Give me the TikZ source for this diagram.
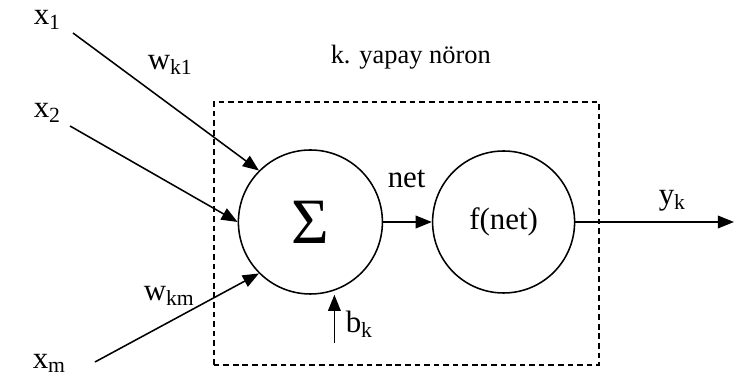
\documentclass[tikz,border=0pt]{standalone}
\usepackage{fontspec}
\setmainfont{Liberation Serif}
\usetikzlibrary{arrows.meta}
\tikzset{every path/.style={line width=1.1pt},
  neuron/.style={draw,circle,minimum size=3.6cm,inner sep=0pt},
  lbl/.style={anchor=base west,inner sep=0pt,font=\fontsize{22}{24}\selectfont},
  arr/.style={-{Triangle[length=11.5pt,width=9pt]}}}

\begin{document}
\begin{tikzpicture}
    \useasboundingbox (0,0) rectangle (18.375,9.475);

    \node[neuron,font=\fontsize{46}{48}\selectfont] (sum) at (7.76,3.925) {Σ};
    \node[neuron,minimum size=3.55cm] (act) at (12.59,3.925) {};
    \node[lbl,anchor=center] at (act) {f(net)};

    \draw[line width=0.9pt,dash pattern=on 4pt off 2.8pt] (5.35,0.35) rectangle (14.975,6.925);
    \node[lbl,font=\fontsize{18.8}{20}\selectfont] (title) at (8.25,7.875) {k. yapay nöron};

    \coordinate (in1) at (1.825,8.65);
    \coordinate (in2) at (1.75,6.325);
    \coordinate (inm) at (2.375,0.425);
    \coordinate (bin) at (8.36,0.9);
    \coordinate (out) at (18.35,3.925);

    \node[lbl] (x1) at (0.825,8.85) {x\textsubscript{1}};
    \node[lbl] (x2) at (0.825,6.525) {x\textsubscript{2}};
    \node[lbl] (xm) at (0.8,0.26) {x\textsubscript{m}};
    \node[lbl] (w1) at (3.675,7.725) {w\textsubscript{k1}};
    \node[lbl] (wm) at (3.575,1.96) {w\textsubscript{km}};
    \node[lbl] (net) at (9.675,4.775) {net};
    \node[lbl] (yk) at (16.45,4.35) {y\textsubscript{k}};
    \node[lbl] (bk) at (8.625,1.15) {b\textsubscript{k}};

    \draw[arr] (in1) -- (sum.135);
    \draw[arr] (in2) -- (sum.west);
    \draw[arr] (inm) -- (sum.225);
    \draw[arr] (bin) -- (bin |- sum.south);
    \draw[arr] (sum) -- (act);
    \draw[arr] (act) -- (out);
\end{tikzpicture}
\end{document}
